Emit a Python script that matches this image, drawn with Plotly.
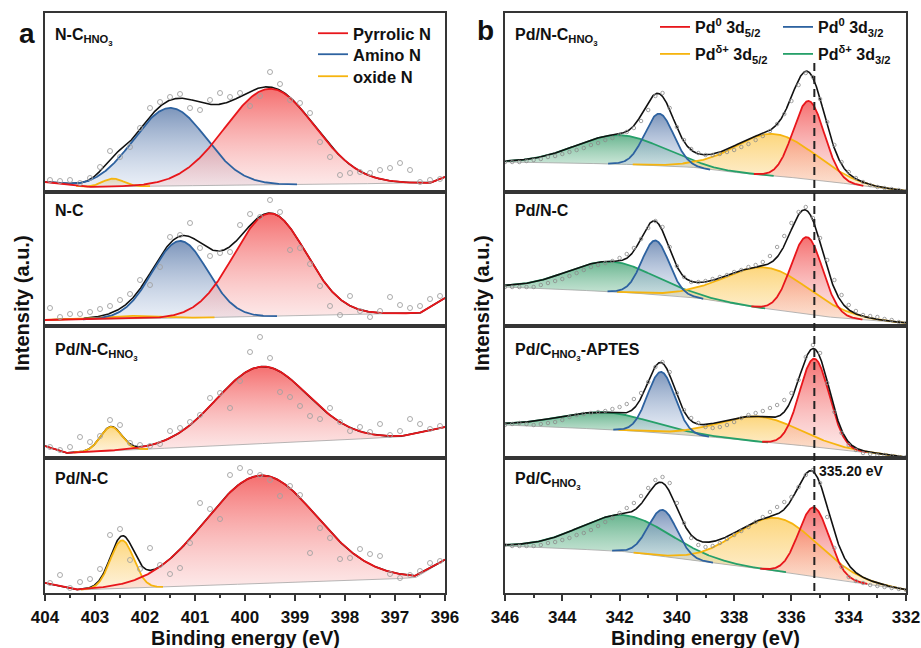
import numpy as np
import plotly.graph_objects as go

FIG_W, FIG_H = 921, 648
FONT = "Liberation Sans, Arial, sans-serif"
INK = "#111111"
FRAME = "#353535"

# ---------------- N 1s spectra (panel a), sampled every 0.2 eV ----------------
n1s_energy = np.round(403.9 - 0.2 * np.arange(40), 2)

n1s_nc_hno3 = [12, 11, 12, 9, 14, 25, 41, 35, 45, 64, 84, 90, 95, 98, 84, 82, 92, 99, 95, 99,
               86, 96, 120, 108, 92, 89, 79, 50, 35, 17, 19, 20, 19, 22, 24, 29, 22, 10, 12, 13]
n1s_nc = [18, 9, 12, 12, 14, 17, 20, 26, 32, 46, 41, 59, 89, 91, 103, 78, 70, 73, 74, 101,
          112, 109, 126, 114, 76, 78, 62, 40, 20, 11, 30, 15, 9, 15, 29, 21, 18, 20, 27, 30]
n1s_pd_nc_hno3 = [11, 8, 11, 21, 16, 22, 38, 33, 15, 13, 12, 14, 27, 30, 36, 43, 60, 65, 50, 77,
                  106, 121, 100, 66, 61, 52, 42, 39, 50, 36, 27, 31, 26, 34, 23, 27, 39, 34, 29, 32]
n1s_pd_nc = [10, 18, 5, 11, 14, 24, 58, 64, 33, 24, 45, 28, 19, 25, 50, 90, 84, 74, 118, 125,
             121, 118, 113, 97, 107, 98, 40, 65, 55, 34, 35, 44, 39, 37, 19, 15, 18, 22, 30, 32]

# background knots: binding energy (eV) and intensity (a.u.)
n1s_bg_e_nc_hno3 = [404.0, 403.2, 400.0, 396.3, 396.0]
n1s_bg_nc_hno3 = [10, 5, 7, 9, 15]
n1s_bg_e_nc = [404.0, 400.0, 396.5, 396.0]
n1s_bg_nc = [6, 9, 13, 28]
n1s_bg_e_pd_nc_hno3 = [404.0, 403.6, 396.9, 396.0]
n1s_bg_pd_nc_hno3 = [12, 5, 21, 31]
n1s_bg_e_pd_nc = [404.0, 403.4, 396.6, 396.0]
n1s_bg_pd_nc = [10, 3, 15, 33]

# fitted components: centre (eV), height (a.u.), FWHM (eV)
n1s_fit_nc_hno3 = {"pyrrolic": (399.5, 96, 2.1), "amino": (401.5, 78, 1.7), "oxide": (402.64, 8, 0.5)}
n1s_fit_nc = {"pyrrolic": (399.5, 103, 1.7), "amino": (401.3, 77, 1.3), "oxide": (402.4, 3, 1.2)}
n1s_fit_pd_nc_hno3 = {"pyrrolic": (399.66, 77, 2.14), "oxide": (402.68, 24, 0.5)}
n1s_fit_pd_nc = {"pyrrolic": (399.68, 108, 2.6), "oxide": (402.46, 48, 0.55)}

# ---------------- Pd 3d spectra (panel b), sampled every 0.25 eV ----------------
pd3d_energy = np.round(346.0 - 0.25 * np.arange(57), 2)

pd3d_pd_nc_hno3 = [30, 30, 30, 31, 32, 33, 35, 36, 38, 40, 42, 44, 47, 49, 52, 54, 57, 60, 64, 71,
                   82, 96, 99, 84, 65, 52, 43, 39, 37, 37, 38, 40, 42, 45, 48, 52, 56, 61, 68, 78,
                   91, 107, 119, 115, 93, 70, 47, 30, 20, 14, 10, 7, 5, 4, 3, 2, 1]
pd3d_pd_nc = [39, 39, 39, 39, 39, 41, 43, 45, 47, 50, 53, 56, 59, 61, 63, 65, 68, 72, 78, 87,
              98, 105, 99, 79, 60, 49, 44, 44, 45, 47, 49, 51, 54, 56, 59, 61, 64, 70, 79, 90,
              103, 114, 119, 108, 88, 66, 46, 31, 21, 15, 11, 10, 9, 7, 6, 4, 3]
pd3d_pd_c_aptes = [33, 34, 35, 34, 33, 34, 35, 36, 38, 41, 43, 44, 45, 46, 47, 49, 51, 54, 59, 65,
                   76, 91, 96, 86, 65, 48, 40, 35, 31, 30, 31, 33, 36, 40, 43, 45, 47, 50, 53, 58,
                   65, 78, 101, 113, 105, 75, 46, 25, 13, 8, 5, 4, 3, 3, 2, 1, 1]
pd3d_pd_c = [48, 47, 47, 47, 47, 48, 50, 51, 53, 55, 58, 60, 63, 67, 71, 75, 80, 85, 90, 97,
             105, 113, 116, 110, 90, 70, 55, 48, 46, 47, 50, 54, 58, 62, 66, 71, 76, 81, 86, 91,
             96, 106, 118, 123, 110, 76, 45, 26, 16, 12, 10, 8, 7, 6, 5, 4, 3]

pd3d_bg_e_pd_nc_hno3 = [346.0, 342.0, 339.5, 338.5, 337.0, 335.0, 334.0, 333.0, 332.0]
pd3d_bg_pd_nc_hno3 = [30, 28, 25, 21, 17, 12, 8, 4, 1]
pd3d_bg_e_pd_nc = [346.0, 342.0, 339.5, 337.3, 334.7, 332.0]
pd3d_bg_pd_nc = [39, 34, 29, 19, 9, 3]
pd3d_bg_e_pd_c_aptes = [346.0, 342.0, 339.5, 337.0, 334.7, 332.0]
pd3d_bg_pd_c_aptes = [33, 28, 23, 16, 10, 1]
pd3d_bg_e_pd_c = [346.0, 342.0, 339.5, 336.5, 334.7, 332.0]
pd3d_bg_pd_c = [47, 42, 33, 22, 15, 3]

pd3d_fit_pd_nc_hno3 = {"ox32": (342.0, 29, 3.6), "ox52": (336.6, 42, 3.3),
                       "m32": (340.62, 52, 1.19), "m52": (335.4, 78, 1.28)}
pd3d_fit_pd_nc = {"ox32": (342.3, 30, 3.6), "ox52": (336.85, 41, 3.5),
                  "m32": (340.75, 54, 1.12), "m52": (335.46, 77, 1.3)}
pd3d_fit_pd_c_aptes = {"ox32": (342.5, 17, 3.8), "ox52": (337.1, 25, 3.3),
                       "m32": (340.55, 61, 1.12), "m52": (335.2, 88, 1.22)}
pd3d_fit_pd_c = {"ox32": (341.8, 36.5, 3.75), "ox52": (336.5, 53, 3.35),
                 "m32": (340.5, 46.5, 1.18), "m52": (335.22, 68.5, 1.25)}

PD0_REF = 335.20  # Pd0 3d5/2 reference position

# ---------------- styling ----------------
PALETTE = {
    "red": dict(line="#e8161b", top="rgba(242,70,70,0.78)", bottom="rgba(250,208,208,0.45)"),
    "blue": dict(line="#2d62a0", top="rgba(96,126,172,0.82)", bottom="rgba(208,220,238,0.45)"),
    "yellow": dict(line="#f6b40e", top="rgba(252,204,92,0.8)", bottom="rgba(253,228,180,0.5)"),
    "green": dict(line="#26a06a", top="rgba(62,160,112,0.78)", bottom="rgba(192,226,206,0.45)"),
}
# component key -> (legend text, colour, legend id)
N_COMPONENTS = {"pyrrolic": ("Pyrrolic N", "red", "legend"),
                "amino": ("Amino N", "blue", "legend2"),
                "oxide": ("oxide N", "yellow", "legend3")}
PD_COMPONENTS = {"m52": ("Pd<sup>0</sup> 3d<sub>5/2</sub>", "red", "legend4"),
                 "m32": ("Pd<sup>0</sup> 3d<sub>3/2</sub>", "blue", "legend5"),
                 "ox52": ("Pd<sup>δ+</sup> 3d<sub>5/2</sub>", "yellow", "legend6"),
                 "ox32": ("Pd<sup>δ+</sup> 3d<sub>3/2</sub>", "green", "legend7")}
# legend anchor (left px of the sample line, centre-line px of the row)
LEGEND_SPOTS = {"legend": (318, 32), "legend2": (318, 53), "legend3": (318, 75),
                "legend4": (660, 26), "legend5": (783, 26),
                "legend6": (660, 53), "legend7": (783, 53)}

ROW_EDGES = [13, 192, 326, 458, 593]          # subplot frame rows (px)
LABEL_TOPS = [24, 200, 339, 468]
COL_A, COL_B = (45, 445), (505, 906)
TAIL = 0.002                                   # components are drawn where above this fraction of their height


def px_x(p):
    return p / FIG_W


def px_y(p):
    return 1 - p / FIG_H


def refs(idx):
    s = "" if idx == 1 else str(idx)
    return "xaxis" + s, "yaxis" + s, "x" + s, "y" + s


def background(grid, knots_e, knots_v):
    e = np.asarray(knots_e, float)
    v = np.asarray(knots_v, float)
    order = np.argsort(e)
    return np.interp(grid, e[order], v[order])


def gaussian(grid, centre, height, fwhm):
    sigma = fwhm / (2 * np.sqrt(2 * np.log(2)))
    return height * np.exp(-0.5 * ((grid - centre) / sigma) ** 2)


fig = go.Figure()
layout = {}


def draw_spectrum(idx, energy, counts, bg_e, bg_v, fit, comp_info, order, grid,
                  full_span, first_row, marker, envelope_last):
    _, _, xr, yr = refs(idx)
    bg = background(grid, bg_e, bg_v)
    comps = {k: gaussian(grid, *fit[k]) for k in fit}
    masks = {}
    for k in order:
        if k not in fit:
            continue
        masks[k] = np.ones_like(grid, bool) if k in full_span else comps[k] > TAIL * fit[k][1]
        m = masks[k]
        xs, top, base = grid[m], bg[m] + comps[k][m], bg[m]
        pal = PALETTE[comp_info[k][1]]
        fig.add_trace(go.Scatter(
            x=np.concatenate([xs, xs[::-1]]), y=np.concatenate([top, base[::-1]]),
            xaxis=xr, yaxis=yr, mode="lines", line=dict(width=0, color="rgba(0,0,0,0)"),
            fill="toself",
            fillgradient=dict(type="vertical", colorscale=[[0, pal["bottom"]], [1, pal["top"]]]),
            hoverinfo="skip", showlegend=False))
    fig.add_trace(go.Scatter(x=grid, y=bg, xaxis=xr, yaxis=yr, mode="lines",
                             line=dict(color="rgba(165,165,165,0.8)", width=1),
                             hoverinfo="skip", showlegend=False))
    envelope = bg + sum(comps.values())
    env_trace = go.Scatter(x=grid, y=envelope, xaxis=xr, yaxis=yr, mode="lines",
                           line=dict(color="#111111", width=1.6), hoverinfo="skip", showlegend=False)
    if not envelope_last:
        fig.add_trace(env_trace)
    for k in order:
        if k not in fit:
            continue
        name, colour, legend_id = comp_info[k]
        m = masks[k]
        fig.add_trace(go.Scatter(
            x=grid[m], y=bg[m] + comps[k][m], xaxis=xr, yaxis=yr, mode="lines",
            line=dict(color=PALETTE[colour]["line"], width=1.8), name=name,
            showlegend=first_row, legend=legend_id, hoverinfo="skip"))
    if envelope_last:
        fig.add_trace(env_trace)
    fig.add_trace(go.Scatter(
        x=energy, y=counts, xaxis=xr, yaxis=yr, mode="markers", marker=marker,
        hoverinfo="skip", showlegend=False))


panel_a = [
    (n1s_nc_hno3, n1s_bg_e_nc_hno3, n1s_bg_nc_hno3, n1s_fit_nc_hno3, "N-C<sub>HNO<sub>3</sub></sub>"),
    (n1s_nc, n1s_bg_e_nc, n1s_bg_nc, n1s_fit_nc, "N-C"),
    (n1s_pd_nc_hno3, n1s_bg_e_pd_nc_hno3, n1s_bg_pd_nc_hno3, n1s_fit_pd_nc_hno3,
     "Pd/N-C<sub>HNO<sub>3</sub></sub>"),
    (n1s_pd_nc, n1s_bg_e_pd_nc, n1s_bg_pd_nc, n1s_fit_pd_nc, "Pd/N-C"),
]
panel_b = [
    (pd3d_pd_nc_hno3, pd3d_bg_e_pd_nc_hno3, pd3d_bg_pd_nc_hno3, pd3d_fit_pd_nc_hno3,
     "Pd/N-C<sub>HNO<sub>3</sub></sub>"),
    (pd3d_pd_nc, pd3d_bg_e_pd_nc, pd3d_bg_pd_nc, pd3d_fit_pd_nc, "Pd/N-C"),
    (pd3d_pd_c_aptes, pd3d_bg_e_pd_c_aptes, pd3d_bg_pd_c_aptes, pd3d_fit_pd_c_aptes,
     "Pd/C<sub>HNO<sub>3</sub></sub>-APTES"),
    (pd3d_pd_c, pd3d_bg_e_pd_c, pd3d_bg_pd_c, pd3d_fit_pd_c, "Pd/C<sub>HNO<sub>3</sub></sub>"),
]

annotations = []
columns = [
    dict(spectra=panel_a, cols=COL_A, rng=[404, 396], dtick=1, mdtick=0.5, tick0=396,
         grid=np.linspace(404.0, 396.0, 801), energy=n1s_energy, info=N_COMPONENTS,
         order=["oxide", "amino", "pyrrolic"], full={"pyrrolic"}, env_last=False,
         marker=dict(symbol="circle-open", size=5, color="#a2a2a2", line=dict(width=0.9))),
    dict(spectra=panel_b, cols=COL_B, rng=[346, 332], dtick=2, mdtick=1, tick0=332,
         grid=np.linspace(346.0, 332.0, 1401), energy=pd3d_energy, info=PD_COMPONENTS,
         order=["ox32", "ox52", "m32", "m52"], full=set(), env_last=True,
         marker=dict(symbol="circle-open", size=3.5, color="#8c8c8c", line=dict(width=0.8))),
]

for ci, col in enumerate(columns):
    for ri, (counts, bg_e, bg_v, fit, label) in enumerate(col["spectra"]):
        idx = ci * 4 + ri + 1
        xa, ya, xr, yr = refs(idx)
        top_px, bot_px = ROW_EDGES[ri], ROW_EDGES[ri + 1]
        bottom_row = ri == 3
        layout[xa] = dict(
            domain=[px_x(col["cols"][0]), px_x(col["cols"][1])], anchor=yr, range=col["rng"],
            showline=True, mirror=True, linecolor=FRAME, linewidth=1.8,
            showgrid=False, zeroline=False,
            tickmode="linear", tick0=col["tick0"], dtick=col["dtick"],
            ticks="outside" if bottom_row else "", ticklen=6, tickwidth=1.8, tickcolor=FRAME,
            showticklabels=bottom_row, ticklabelstandoff=2,
            tickfont=dict(family=FONT, size=17, color=INK, weight="bold"),
            minor=dict(ticks="outside", dtick=col["mdtick"], tick0=col["tick0"], ticklen=3,
                       tickwidth=1.5, tickcolor=FRAME) if bottom_row else dict(ticks=""),
        )
        layout[ya] = dict(
            domain=[px_y(bot_px), px_y(top_px)], anchor=xr, range=[0, bot_px - top_px],
            showline=True, mirror=True, linecolor=FRAME, linewidth=1.8,
            showgrid=False, zeroline=False, showticklabels=False, ticks="",
        )
        draw_spectrum(idx, col["energy"], counts, bg_e, bg_v, fit, col["info"], col["order"],
                      col["grid"], col["full"], ri == 0, col["marker"], col["env_last"])
        annotations.append(dict(
            text=label, xref="paper", yref="paper", x=px_x(col["cols"][0] + 8),
            y=px_y(LABEL_TOPS[ri]), xanchor="left", yanchor="top", showarrow=False,
            font=dict(family=FONT, size=16, color=INK, weight="bold")))

big = dict(family=FONT, size=28, color=INK, weight="bold")
title_font = dict(family=FONT, size=20, color=INK, weight="bold")
annotations += [
    dict(text="a", x=px_x(27), y=px_y(33), font=big),
    dict(text="b", x=px_x(485), y=px_y(31), font=big),
    dict(text="Binding energy (eV)", x=px_x(245), y=px_y(638), font=title_font),
    dict(text="Binding energy (eV)", x=px_x(705), y=px_y(638), font=title_font),
    dict(text="Intensity (a.u.)", x=px_x(22), y=px_y(303), textangle=-90, font=title_font),
    dict(text="Intensity (a.u.)", x=px_x(482), y=px_y(303), textangle=-90, font=title_font),
]
for a in annotations[-6:]:
    a.update(xref="paper", yref="paper", xanchor="center", yanchor="middle", showarrow=False,
             borderpad=0)

annotations.append(dict(
    text=f"{PD0_REF:.2f} eV", xref="x8", yref="paper", x=PD0_REF, y=px_y(471),
    xanchor="left", yanchor="middle", xshift=3, showarrow=False,
    font=dict(family=FONT, size=14, color=INK, weight="bold")))

legends = {}
for lid, (lx, ly) in LEGEND_SPOTS.items():
    size = 16.5 if lid in ("legend", "legend2", "legend3") else 16
    legends[lid] = dict(x=px_x(lx - 5), y=px_y(ly - 16), xanchor="left", yanchor="top",
                        font=dict(family=FONT, size=size, color=INK, weight="bold"),
                        bgcolor="rgba(0,0,0,0)", itemwidth=30, tracegroupgap=0)

fig.update_layout(
    width=FIG_W, height=FIG_H, margin=dict(l=0, r=0, t=0, b=0, autoexpand=False),
    paper_bgcolor="white", plot_bgcolor="white",
    annotations=annotations,
    shapes=[dict(type="line", xref="x5", yref="paper", x0=PD0_REF, x1=PD0_REF,
                 y0=px_y(591), y1=px_y(60), line=dict(color="#222222", width=2, dash="8px,5px"))],
    **legends,
    **layout,
)

fig.write_html("out.html")
